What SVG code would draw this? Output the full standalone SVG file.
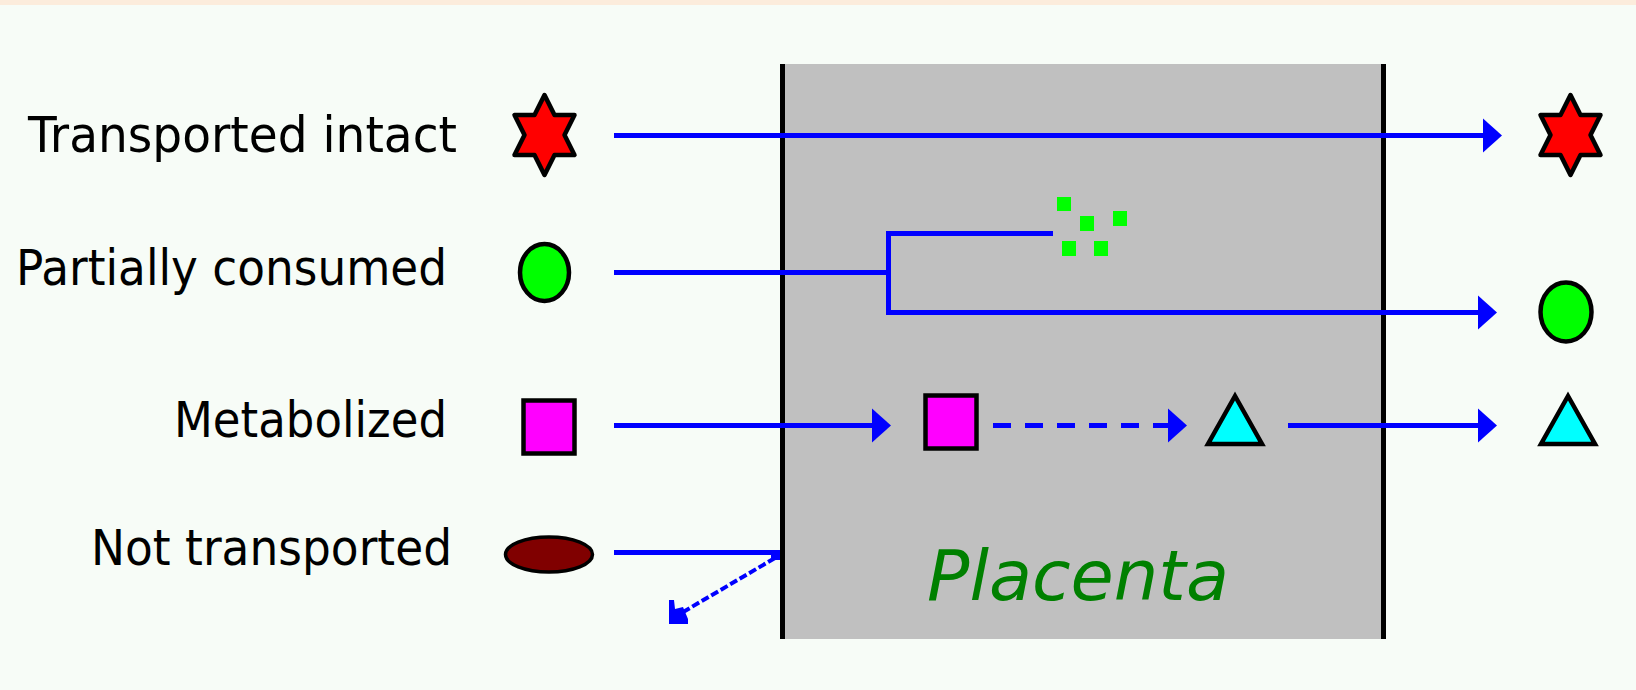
<svg xmlns="http://www.w3.org/2000/svg" width="1636" height="690" viewBox="0 0 1636 690">
<style>
.lbl{font-family:"DejaVu Sans","Liberation Sans",sans-serif;font-size:49px;fill:#000}
.plac{font-family:"DejaVu Sans","Liberation Sans",sans-serif;font-style:italic;font-size:69px;fill:#008000}
.ln{stroke:#0000ff;stroke-width:5;fill:none}
.ah{fill:#0000ff}
.sh{stroke:#000;stroke-width:4.5}
</style>
<defs>
<polygon id="ah" points="0,-17 19,0 0,17"/>
<polygon id="star" points="0,-40 10,-20 30,-20 20,0 30,20 10,20 0,40 -10,20 -30,20 -20,0 -30,-20 -10,-20"/>
</defs>
<rect x="0" y="0" width="1636" height="690" fill="#f7fcf7"/>
<rect x="0" y="0" width="1636" height="5" fill="#fcecdc"/>

<g id="placenta">
<rect x="785" y="64" width="596" height="575" fill="#c0c0c0"/>
<rect x="780" y="64" width="5" height="575" fill="#000"/>
<rect x="1381" y="64" width="5" height="575" fill="#000"/>
<text class="plac" x="927" y="600" textLength="302" lengthAdjust="spacingAndGlyphs">Placenta</text>
</g>

<g id="labels">
<text class="lbl" x="28" y="152" textLength="429" lengthAdjust="spacingAndGlyphs">Transported intact</text>
<text class="lbl" x="16" y="285" textLength="431" lengthAdjust="spacingAndGlyphs">Partially consumed</text>
<text class="lbl" x="174" y="437" textLength="273" lengthAdjust="spacingAndGlyphs">Metabolized</text>
<text class="lbl" x="91" y="565" textLength="361" lengthAdjust="spacingAndGlyphs">Not transported</text>
</g>

<g id="star-left"><use href="#star" x="544.5" y="135" fill="#ff0000" class="sh" stroke-linejoin="round"/></g>
<g id="star-right"><use href="#star" x="1570.5" y="135" fill="#ff0000" class="sh" stroke-linejoin="round"/></g>
<g id="circle-left"><ellipse cx="544.5" cy="272.5" rx="24.5" ry="28.5" fill="#00ff00" class="sh"/></g>
<g id="circle-right"><ellipse cx="1566" cy="312" rx="25.5" ry="29.5" fill="#00ff00" class="sh"/></g>
<g id="fragments" fill="#00ff00">
<rect x="1057" y="197" width="14" height="14"/>
<rect x="1080" y="216" width="14" height="15"/>
<rect x="1113" y="211" width="14" height="15"/>
<rect x="1062" y="241" width="14" height="15"/>
<rect x="1094" y="241" width="14" height="15"/>
</g>
<g id="square-left"><rect x="523.5" y="400.5" width="51" height="53" fill="#ff00ff" class="sh"/></g>
<g id="square-mid"><rect x="925.5" y="395.5" width="51" height="53" fill="#ff00ff" class="sh"/></g>
<g id="tri-mid"><polygon points="1235,396 1208,444 1262,444" fill="#00ffff" class="sh"/></g>
<g id="tri-right"><polygon points="1568,396 1541,444 1595,444" fill="#00ffff" class="sh"/></g>
<g id="ellipse-left"><ellipse cx="549" cy="554.5" rx="43.5" ry="17.5" fill="#800000" stroke="#000" stroke-width="3.5"/></g>

<g id="connectors">
<line class="ln" x1="614" y1="135.5" x2="1484" y2="135.5"/>
<use href="#ah" x="1483" y="135.5" class="ah"/>

<polyline class="ln" points="614,272.5 888.5,272.5"/>
<polyline class="ln" points="1053,233.5 888.5,233.5 888.5,312.5 1479,312.5"/>
<use href="#ah" x="1478" y="312.5" class="ah"/>

<line class="ln" x1="614" y1="425.5" x2="873" y2="425.5"/>
<use href="#ah" x="872" y="425.5" class="ah"/>
<line class="ln" x1="993" y1="425.5" x2="1169" y2="425.5" stroke-dasharray="18 14"/>
<use href="#ah" x="1168" y="425.5" class="ah"/>
<line class="ln" x1="1288" y1="425.5" x2="1479" y2="425.5"/>
<use href="#ah" x="1478" y="425.5" class="ah"/>

<line class="ln" x1="614" y1="552.5" x2="780" y2="552.5"/>
<rect x="771" y="552" width="9" height="8" fill="#0000ff"/>
<line x1="775" y1="558" x2="678" y2="615" stroke="#0000ff" stroke-width="4" stroke-dasharray="8 3"/>
<polygon points="669,600 674,600 675,609 683,607 688,619 688,624 669,624" fill="#0000ff"/>
</g>
</svg>
